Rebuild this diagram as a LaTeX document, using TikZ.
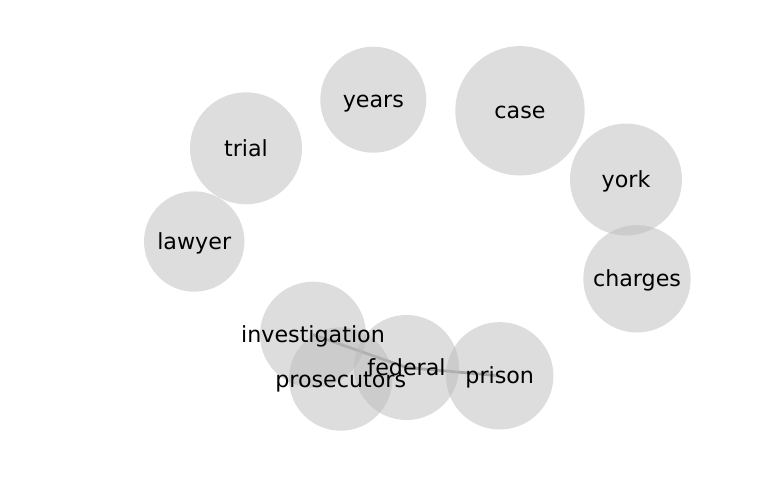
\documentclass[tikz,border=0pt]{standalone}
\usepackage{fontspec}
\setmainfont{DejaVu Sans}
\definecolor{nodefill}{HTML}{BBBBBB}
\begin{document}
\begin{tikzpicture}[x=1pt,y=-1pt,
  bubble/.style={circle,fill=nodefill,fill opacity=0.5,inner sep=0pt,draw=none},
  word/.style={font=\fontsize{22.2}{26}\selectfont,text=black,inner sep=0pt,text height=18pt,text depth=2pt},
  link/.style={draw=black!60,line width=2.8pt,draw opacity=0.7}]
\useasboundingbox (0,0) rectangle (768,500);
% coordinates of node centres
\coordinate (cyears) at (373.3,99.7);
\coordinate (ccase) at (520,110.8);
\coordinate (ctrial) at (246,148.3);
\coordinate (cyork) at (626,179.5);
\coordinate (clawyer) at (194.2,241.5);
\coordinate (ccharges) at (637,278.8);
\coordinate (cinvestigation) at (313,334.7);
\coordinate (cprosecutors) at (340.7,379);
\coordinate (cfederal) at (406.5,367.5);
\coordinate (cprison) at (499.7,375.8);
% edges
\draw[link] (cinvestigation) -- (cfederal);
\draw[link] (cfederal) -- (cprison);
% bubbles
\node[bubble,minimum size=106pt] (byears) at (cyears) {};
\node[bubble,minimum size=129.4pt] (bcase) at (ccase) {};
\node[bubble,minimum size=112pt] (btrial) at (ctrial) {};
\node[bubble,minimum size=112pt] (byork) at (cyork) {};
\node[bubble,minimum size=100.4pt] (blawyer) at (clawyer) {};
\node[bubble,minimum size=107.4pt] (bcharges) at (ccharges) {};
\node[bubble,minimum size=106pt] (binvestigation) at (cinvestigation) {};
\node[bubble,minimum size=103.4pt] (bprosecutors) at (cprosecutors) {};
\node[bubble,minimum size=105pt] (bfederal) at (cfederal) {};
\node[bubble,minimum size=107.4pt] (bprison) at (cprison) {};
% labels
\node[word] (lyears) at (cyears) {years};
\node[word] (lcase) at (ccase) {case};
\node[word] (ltrial) at (ctrial) {trial};
\node[word] (lyork) at (cyork) {york};
\node[word] (llawyer) at (clawyer) {lawyer};
\node[word] (lcharges) at (ccharges) {charges};
\node[word] (linvestigation) at (cinvestigation) {investigation};
\node[word] (lprosecutors) at (cprosecutors) {prosecutors};
\node[word] (lfederal) at (cfederal) {federal};
\node[word] (lprison) at (cprison) {prison};
\end{tikzpicture}
\end{document}
